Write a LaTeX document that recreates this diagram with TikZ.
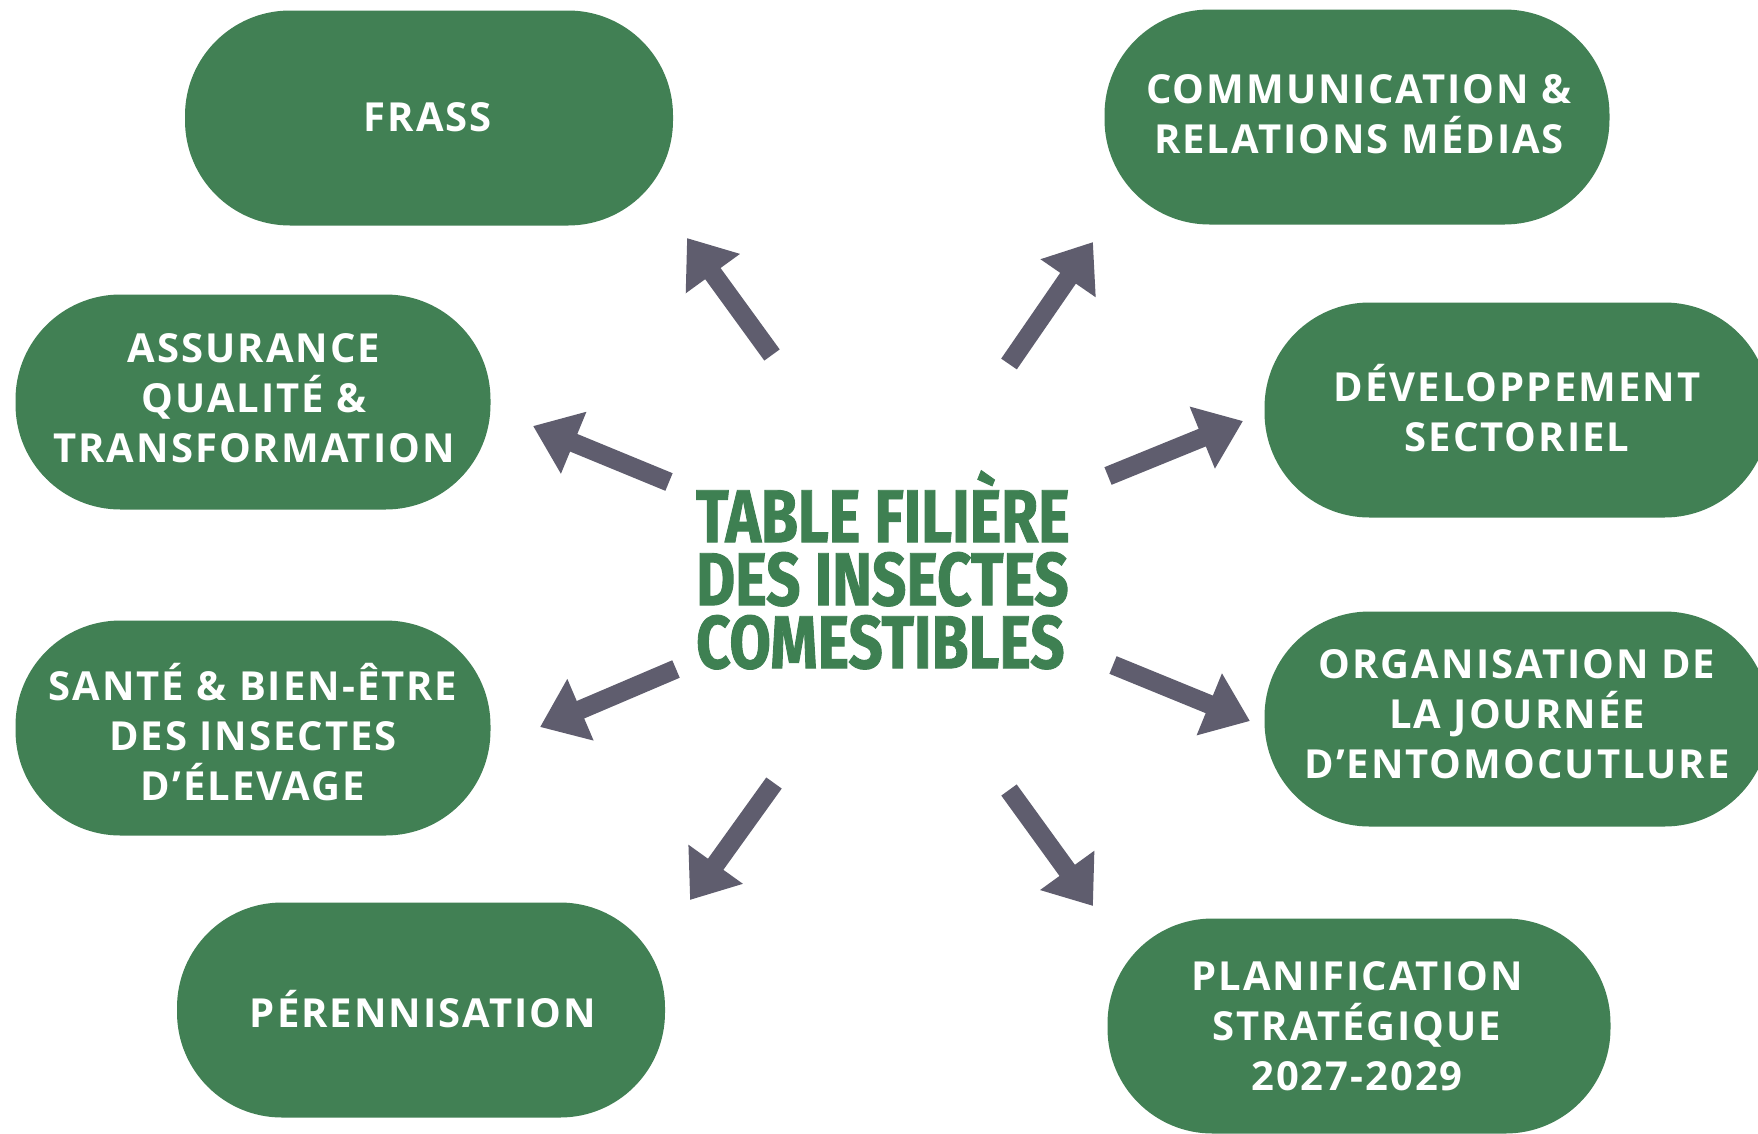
\documentclass[tikz,border=0pt]{standalone}
\usepackage{fontspec}
\setmainfont[LetterSpace=5]{Open Sans}
\newfontfamily\titlefont[FakeStretch=0.8,FakeBold=1.2]{Fira Sans}
\usetikzlibrary{arrows.meta}
\definecolor{pillgreen}{RGB}{65,128,84}
\definecolor{titlegreen}{RGB}{62,128,82}
\definecolor{arrowgray}{RGB}{95,93,110}
\begin{document}
\begin{tikzpicture}[x=1pt,y=-1pt,
  pill/.style={fill=pillgreen, rounded corners=105pt, minimum width=#1, minimum height=215pt, inner sep=0pt},
  lab/.style={text=white, font=\fontsize{40}{50}\selectfont\bfseries, align=center, inner sep=0pt},
  conn/.style={draw=arrowgray, line width=19pt, -{Triangle[length=44pt,width=64pt]}}
]
\useasboundingbox (0,0) rectangle (1758,1133);
\fill[white] (0,0) rectangle (1758,1133);

% pills
\node[pill=488pt] (frass) at (429,118) {};
\node[pill=505pt] (comm)  at (1357,117) {};
\node[pill=475pt] (assur) at (253,402) {};
\node[pill=505pt] (dev)   at (1517,410) {};
\node[pill=475pt] (sante) at (253,728) {};
\node[pill=505pt] (org)   at (1517,719) {};
\node[pill=488pt] (peren) at (421,1010) {};
\node[pill=503pt] (plan)  at (1359,1026) {};

% labels
\node[lab] (tfrass) at (428,117) {FRASS};
\node[lab] (tcomm)  at (1359,114) {COMMUNICATION \&\\RELATIONS MÉDIAS};
\node[lab] (tassur) at (254,398) {ASSURANCE\\QUALITÉ \&\\TRANSFORMATION};
\node[lab] (tdev)   at (1517,408) {DÉVELOPPEMENT\\SECTORIEL};
\node[lab] (tsante) at (253,732) {SANTÉ \& BIEN-ÊTRE\\DES INSECTES\\D’ÉLEVAGE};
\node[lab] (torg)   at (1517,714) {ORGANISATION DE\\LA JOURNÉE\\D’ENTOMOCUTLURE};
\node[lab] (tperen) at (423,1009) {PÉRENNISATION};
\node[lab] (tplan)  at (1357,1026) {PLANIFICATION\\STRATÉGIQUE\\2027-2029};

% title
\node[text=titlegreen, font=\titlefont\bfseries\fontsize{75}{63}\selectfont, align=left, inner sep=0pt] (title) at (883,570)
  {TABLE FILIÈRE\\DES INSECTES\\COMESTIBLES};

% arrow ends
\coordinate (s1) at (772,355);  \coordinate (e1) at (687,238);
\coordinate (s2) at (1009,364); \coordinate (e2) at (1093,242);
\coordinate (s3) at (669,482);  \coordinate (e3) at (533,426);
\coordinate (s4) at (1108,476); \coordinate (e4) at (1243,421);
\coordinate (s5) at (676,669);  \coordinate (e5) at (540,727);
\coordinate (s6) at (1113,665); \coordinate (e6) at (1250,721);
\coordinate (s7) at (774,783);  \coordinate (e7) at (690,900);
\coordinate (s8) at (1009,790); \coordinate (e8) at (1093,906);
\foreach \i in {1,...,8} {\draw[conn] (s\i) -- (e\i);}
\end{tikzpicture}
\end{document}
